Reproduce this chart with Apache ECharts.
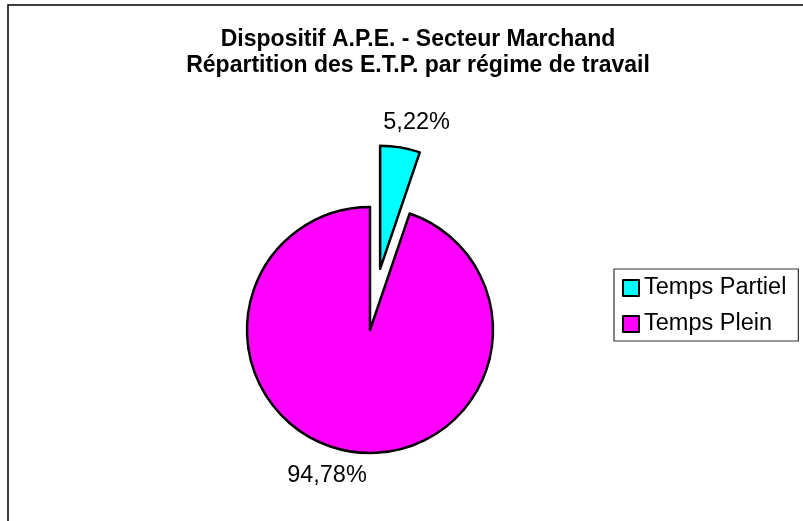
<!DOCTYPE html>
<html>
<head>
<meta charset="utf-8">
<script src="https://cdn.jsdelivr.net/npm/echarts@6/dist/echarts.min.js"></script>
<style>
  html, body { margin: 0; padding: 0; background: #fff; }
  #pieChart { width: 803px; height: 521px; }
</style>
</head>
<body>
<div id="pieChart"></div>
<script>
// regime de travail
var categories = ['Temps Partiel', 'Temps Plein']
var etpShare = [5.22, 94.78]
var sliceColors = ['#00ffff', '#ff00ff']

var chart = echarts.init(document.getElementById('pieChart'))

var font = 'Arial, "Liberation Sans", sans-serif'

chart.setOption({
  backgroundColor: '#fff',
  animation: false,
  title: {
    text: 'Dispositif A.P.E. - Secteur Marchand\nRépartition des E.T.P. par régime de travail',
    left: 418,
    top: 27,
    textAlign: 'center',
    padding: 0,
    textStyle: {
      fontFamily: font,
      fontSize: 23,
      fontWeight: 'bold',
      color: '#000',
      lineHeight: 26
    }
  },
  legend: {
    orient: 'vertical',
    left: 614,
    top: 269,
    padding: [7, 12, 5, 8],
    itemGap: 12,
    itemWidth: 16,
    itemHeight: 16,
    icon: 'rect',
    borderColor: '#333',
    borderWidth: 1.2,
    selectedMode: false,
    textStyle: {
      fontFamily: font,
      fontSize: 23.5,
      color: '#000'
    },
    data: categories
  },
  graphic: [{
    type: 'rect',
    shape: { x: 8, y: 5, width: 900, height: 600 },
    style: { fill: 'none', stroke: '#000', lineWidth: 1.5 },
    silent: true
  }],
  series: [{
    name: 'E.T.P.',
    type: 'pie',
    center: [370, 330],
    radius: 123,
    startAngle: 90,
    clockwise: true,
    avoidLabelOverlap: false,
    selectedMode: 'single',
    selectedOffset: 62,
    emphasis: { disabled: true },
    itemStyle: {
      borderColor: '#000',
      borderWidth: 2.5
    },
    label: {
      show: true,
      position: 'outside',
      distanceToLabelLine: -21,
      fontFamily: font,
      fontSize: 23.5,
      color: '#000',
      formatter: function(p) {
        return p.value.toFixed(2).replace('.', ',') + '%'
      }
    },
    labelLine: {
      show: false,
      length: 25,
      length2: 0
    },
    data: categories.map(function(name, i) {
      return {
        name: name,
        value: etpShare[i],
        selected: i === 0,
        itemStyle: { color: sliceColors[i] }
      }
    })
  }]
})
</script>
</body>
</html>
